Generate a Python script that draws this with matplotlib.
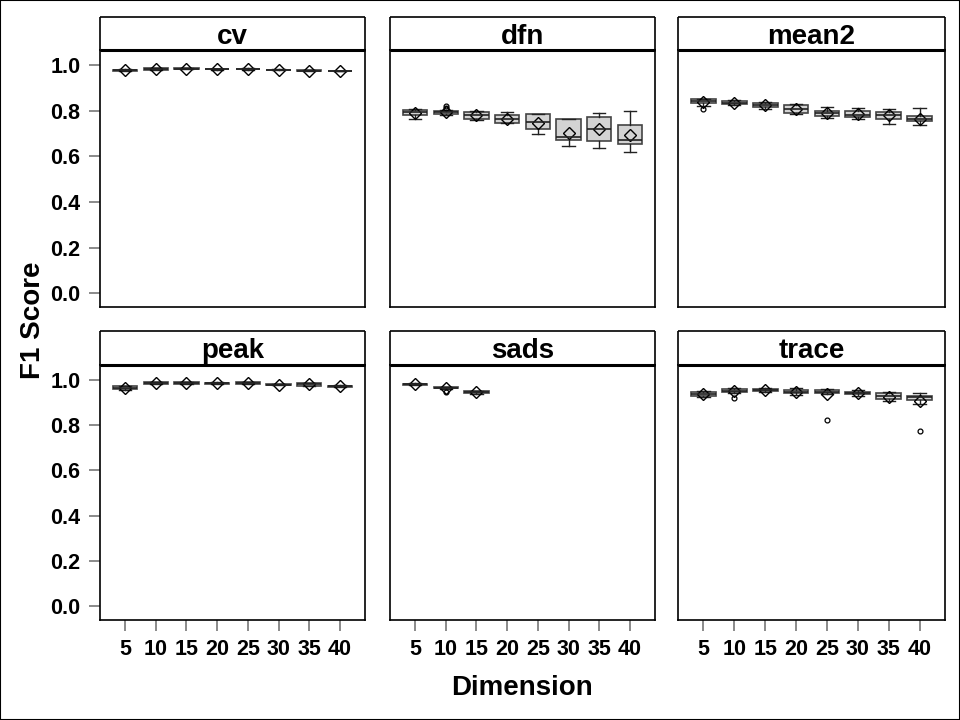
#!/usr/bin/env python

import numpy as np
import matplotlib
matplotlib.use("Agg")
import matplotlib.pyplot as plt
from matplotlib.patches import Rectangle

plt.rcParams['font.family'] = ['Liberation Sans', 'DejaVu Sans']

dims = [5, 10, 15, 20, 25, 30, 35, 40]
methods = ["cv", "dfn", "mean2", "peak", "sads", "trace"]

# per method: median, q1, q3, whisker low, whisker high, mean, outliers
cv_med = [0.976, 0.982, 0.984, 0.981, 0.982, 0.978, 0.974, 0.973]
cv_q1 = [0.973, 0.979, 0.982, 0.980, 0.980, 0.977, 0.972, 0.972]
cv_q3 = [0.979, 0.985, 0.986, 0.982, 0.984, 0.979, 0.976, 0.974]
cv_lo = [0.972, 0.978, 0.981, 0.979, 0.979, 0.976, 0.971, 0.971]
cv_hi = [0.980, 0.986, 0.987, 0.983, 0.985, 0.980, 0.977, 0.975]
cv_mean = [0.976, 0.982, 0.984, 0.981, 0.982, 0.978, 0.974, 0.973]
cv_out = [[], [], [], [], [], [], [], []]

dfn_med = [0.794, 0.792, 0.779, 0.765, 0.750, 0.683, 0.717, 0.673]
dfn_q1 = [0.781, 0.784, 0.765, 0.747, 0.721, 0.671, 0.665, 0.654]
dfn_q3 = [0.803, 0.800, 0.792, 0.779, 0.785, 0.762, 0.770, 0.735]
dfn_lo = [0.762, 0.779, 0.760, 0.745, 0.697, 0.645, 0.636, 0.618]
dfn_hi = [0.808, 0.802, 0.797, 0.794, 0.787, 0.765, 0.791, 0.797]
dfn_mean = [0.788, 0.794, 0.779, 0.763, 0.747, 0.703, 0.717, 0.694]
dfn_out = [[], [0.811, 0.818], [], [], [], [], [], []]

mean2_med = [0.840, 0.835, 0.823, 0.805, 0.788, 0.782, 0.782, 0.765]
mean2_q1 = [0.832, 0.829, 0.814, 0.791, 0.776, 0.771, 0.765, 0.753]
mean2_q3 = [0.849, 0.841, 0.832, 0.823, 0.797, 0.797, 0.794, 0.776]
mean2_lo = [0.820, 0.825, 0.806, 0.786, 0.768, 0.765, 0.741, 0.735]
mean2_hi = [0.850, 0.845, 0.838, 0.830, 0.814, 0.810, 0.806, 0.810]
mean2_mean = [0.838, 0.835, 0.823, 0.806, 0.788, 0.785, 0.782, 0.762]
mean2_out = [[0.808], [], [], [], [], [], [], []]

peak_med = [0.965, 0.986, 0.986, 0.985, 0.986, 0.978, 0.980, 0.971]
peak_q1 = [0.958, 0.983, 0.983, 0.983, 0.983, 0.976, 0.973, 0.969]
peak_q3 = [0.972, 0.988, 0.988, 0.987, 0.988, 0.980, 0.985, 0.973]
peak_lo = [0.955, 0.981, 0.982, 0.982, 0.982, 0.975, 0.971, 0.967]
peak_hi = [0.974, 0.989, 0.989, 0.988, 0.989, 0.981, 0.987, 0.975]
peak_mean = [0.962, 0.986, 0.986, 0.985, 0.986, 0.977, 0.979, 0.971]
peak_out = [[], [], [], [], [], [], [], []]

sads_med = [0.980, 0.965, 0.945]
sads_q1 = [0.978, 0.963, 0.941]
sads_q3 = [0.983, 0.967, 0.949]
sads_lo = [0.976, 0.961, 0.938]
sads_hi = [0.984, 0.968, 0.951]
sads_mean = [0.980, 0.963, 0.945]
sads_out = [[], [0.947], []]

trace_med = [0.937, 0.952, 0.955, 0.948, 0.948, 0.940, 0.928, 0.922]
trace_q1 = [0.930, 0.945, 0.950, 0.940, 0.940, 0.935, 0.915, 0.910]
trace_q3 = [0.945, 0.960, 0.960, 0.955, 0.955, 0.948, 0.940, 0.930]
trace_lo = [0.925, 0.940, 0.945, 0.932, 0.935, 0.928, 0.908, 0.895]
trace_hi = [0.950, 0.965, 0.965, 0.965, 0.960, 0.955, 0.945, 0.940]
trace_mean = [0.935, 0.950, 0.955, 0.947, 0.935, 0.940, 0.925, 0.907]
trace_out = [[], [0.920], [], [], [0.822], [], [], [0.775]]

data = {
    "cv": (cv_med, cv_q1, cv_q3, cv_lo, cv_hi, cv_mean, cv_out),
    "dfn": (dfn_med, dfn_q1, dfn_q3, dfn_lo, dfn_hi, dfn_mean, dfn_out),
    "mean2": (mean2_med, mean2_q1, mean2_q3, mean2_lo, mean2_hi, mean2_mean, mean2_out),
    "peak": (peak_med, peak_q1, peak_q3, peak_lo, peak_hi, peak_mean, peak_out),
    "sads": (sads_med, sads_q1, sads_q3, sads_lo, sads_hi, sads_mean, sads_out),
    "trace": (trace_med, trace_q1, trace_q3, trace_lo, trace_hi, trace_mean, trace_out),
}

fig = plt.figure(figsize=(9.6, 7.2), dpi=100)
W, H = 960.0, 720.0
cols = [(100, 365), (390, 655), (678, 945)]
rows = [(17, 50, 307), (331, 365, 620)]

for i, name in enumerate(methods):
    r, c = divmod(i, 3)
    x0, x1 = cols[c]
    st, pt, pb = rows[r]
    ax = fig.add_axes([x0 / W, 1 - pb / H, (x1 - x0) / W, (pb - pt) / H])
    sax = fig.add_axes([x0 / W, 1 - pt / H, (x1 - x0) / W, (pt - st) / H])
    sax.set_xticks([])
    sax.set_yticks([])
    sax.text(0.5, 0.4, name, ha='center', va='center', fontsize=20,
             fontweight='bold', transform=sax.transAxes)
    for s in sax.spines.values():
        s.set_linewidth(1.2)
        s.set_capstyle('butt')
    sax.spines['bottom'].set_linewidth(2.2)

    med, q1, q3, lo, hi, mn, out = data[name]
    stats = []
    for k in range(len(med)):
        stats.append(dict(med=med[k], q1=q1[k], q3=q3[k], whislo=lo[k],
                          whishi=hi[k], fliers=out[k]))
    pos = np.arange(1, len(med) + 1)
    ax.bxp(stats, positions=pos, widths=0.8, patch_artist=True,
           boxprops=dict(facecolor='#d3d3d3', edgecolor='#444444', linewidth=1.2),
           medianprops=dict(color='#222222', linewidth=1.2),
           whiskerprops=dict(color='#222222', linewidth=1.0),
           capprops=dict(color='#222222', linewidth=1.0),
           flierprops=dict(marker='o', markersize=3.5, markerfacecolor='none',
                           markeredgecolor='black', markeredgewidth=0.9))
    ax.plot(pos, mn, linestyle='none', marker='D', markersize=5.8,
            markerfacecolor='none', markeredgecolor='black', markeredgewidth=1.0)

    ax.set_xlim(0.18, 8.82)
    ax.set_ylim(-0.06, 1.065)
    ax.set_yticks([0.0, 0.2, 0.4, 0.6, 0.8, 1.0])
    ax.set_xticks(np.arange(1, 9))
    ax.set_xticklabels([str(d) for d in dims])
    ax.tick_params(axis='both', direction='out', length=8, width=1.2,
                   color='#777777', labelsize=15.5, pad=6)
    for lab in ax.get_xticklabels() + ax.get_yticklabels():
        lab.set_fontweight('bold')
    if c != 0:
        ax.tick_params(axis='y', left=False, labelleft=False)
    if r != 1:
        ax.tick_params(axis='x', bottom=False, labelbottom=False)
    for s in ax.spines.values():
        s.set_linewidth(1.2)

fig.text(33 / W, 1 - 320 / H, "F1 Score", rotation=90, ha='center', va='center',
         fontsize=20, fontweight='bold')
fig.text(522 / W, 1 - 688 / H, "Dimension", ha='center', va='center',
         fontsize=20, fontweight='bold')
fig.patches.append(Rectangle((0.0005, 0.0005), 0.999, 0.999, transform=fig.transFigure,
                             fill=False, edgecolor='black', linewidth=1.5))

fig.savefig("out.png", dpi=100)
